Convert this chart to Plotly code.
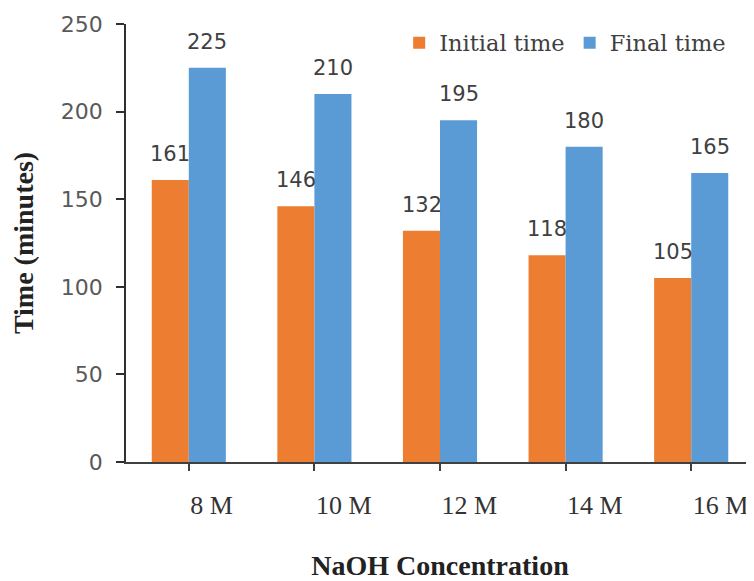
import plotly.graph_objects as go

categories = ["8 M", "10 M", "12 M", "14 M", "16 M"]
initial_time = [161, 146, 132, 118, 105]
final_time = [225, 210, 195, 180, 165]
y_ticks = [0, 50, 100, 150, 200, 250]

ORANGE = "#ED7D31"
BLUE = "#5B9BD5"

fig = go.Figure()
fig.add_trace(go.Bar(x=categories, y=initial_time, name="Initial time",
                     marker=dict(color=ORANGE, line=dict(width=0))))
fig.add_trace(go.Bar(x=categories, y=final_time, name="Final time",
                     marker=dict(color=BLUE, line=dict(width=0))))

label_font = dict(family="DejaVu Sans", size=21, color="#404040")
for series, shift in ((initial_time, -18.5), (final_time, 18.5)):
    for c, v in zip(categories, series):
        fig.add_annotation(x=c, y=v, xref="x", yref="y", text=str(v),
                           showarrow=False, xshift=shift, yshift=26,
                           yanchor="middle", xanchor="center", font=label_font)

# page body has an 8px margin, so the figure is sized 8px smaller
fig.update_layout(
    width=746, height=573,
    margin=dict(l=118, r=0, t=16, b=119, autoexpand=False),
    paper_bgcolor="white", plot_bgcolor="white",
    barmode="group", bargap=0.41, bargroupgap=0,
    showlegend=True,
    legend=dict(orientation="h", x=0.435, y=0.9566, xanchor="left", yanchor="middle",
                font=dict(family="DejaVu Serif", size=22.5, color="#404040"),
                bgcolor="rgba(0,0,0,0)", traceorder="normal",
                itemwidth=30),
    xaxis=dict(
        type="category", range=[-0.5, 4.5],
        showline=True, linecolor="#404040", linewidth=1.5,
        ticks="outside", ticklen=7, tickwidth=1.5, tickcolor="#404040",
        ticklabelposition="outside right", ticklabelstandoff=19,
        tickfont=dict(family="Liberation Serif", size=26, color="#333333"),
        showgrid=False, zeroline=False,
        title=dict(text="<b>NaOH Concentration</b>",
                   font=dict(family="Liberation Serif", size=28, color="#222222"),
                   standoff=36),
        automargin=False,
    ),
    yaxis=dict(
        range=[0, 250], tickvals=y_ticks,
        showline=True, linecolor="#303030", linewidth=1.5,
        ticks="outside", ticklen=8, tickwidth=1.5, tickcolor="#303030",
        ticklabelstandoff=9,
        tickfont=dict(family="DejaVu Sans", size=22, color="#595959"),
        showgrid=False, zeroline=False,
        title=dict(text="<b>Time (minutes)</b>",
                   font=dict(family="Liberation Serif", size=28, color="#222222"),
                   standoff=23),
        automargin=False,
    ),
)

fig.write_html("out.html")
